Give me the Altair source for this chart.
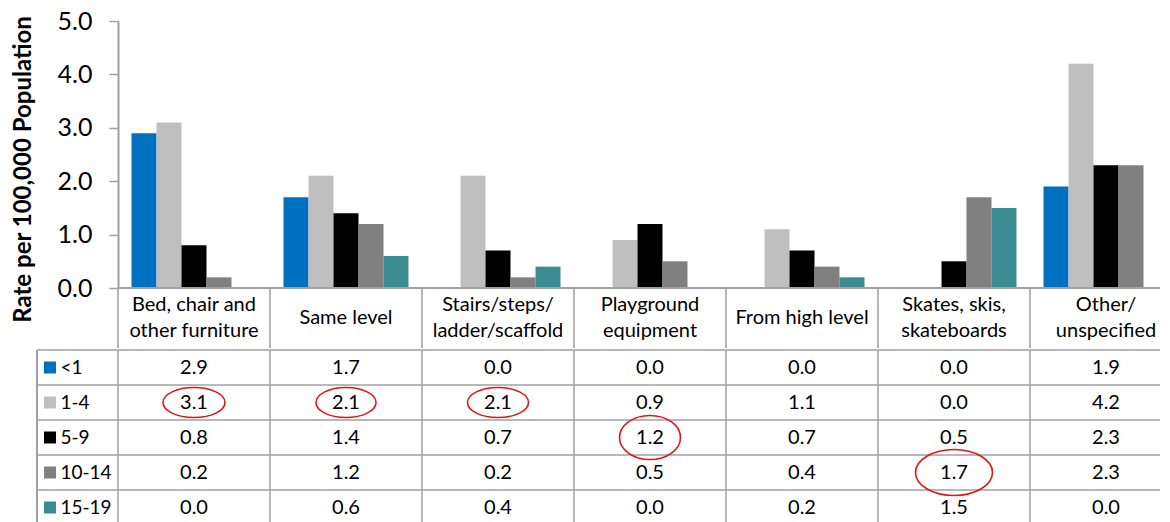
import altair as alt
import pandas as pd

# ---------------- data ----------------
categories = [
    "Bed, chair and\nother furniture",
    "Same level",
    "Stairs/steps/\nladder/scaffold",
    "Playground\nequipment",
    "From high level",
    "Skates, skis,\nskateboards",
    "Other/\nunspecified",
]
age_groups = ["<1", "1-4", "5-9", "10-14", "15-19"]
rate_lt1 = [2.9, 1.7, 0.0, 0.0, 0.0, 0.0, 1.9]
rate_1_4 = [3.1, 2.1, 2.1, 0.9, 1.1, 0.0, 4.2]
rate_5_9 = [0.8, 1.4, 0.7, 1.2, 0.7, 0.5, 2.3]
rate_10_14 = [0.2, 1.2, 0.2, 0.5, 0.4, 1.7, 2.3]
rate_15_19 = [0.0, 0.6, 0.4, 0.0, 0.2, 1.5, 0.0]
y_ticks = [0, 1, 2, 3, 4, 5]
# highlighted cells (category index, age group)
circled_cells = [(0, "1-4"), (1, "1-4"), (2, "1-4"), (3, "5-9"), (5, "10-14")]

# ---------------- style ----------------
colors = ["#0070C0", "#BFBFBF", "#000000", "#808080", "#3B8B92"]
ellipse_dims = [(62, 30), (60, 30), (61, 30), (61, 44), (77, 46)]
FONT = "Lato"
LINE = "#A0A0A0"
X_RANGE = 1064   # full width of the 7 category columns (last one runs past the window)
W = 1042         # visible plot width
H_TOP = 267
H_HEAD = 60
H_TAB = 175
LEFT_COL = 81

series = [rate_lt1, rate_1_4, rate_5_9, rate_10_14, rate_15_19]
rows = []
for age, vals in zip(age_groups, series):
    for cat, v in zip(categories, vals):
        rows.append({"category": cat, "age": age, "rate": v, "label": f"{v:.1f}"})
df = pd.DataFrame(rows)


def ellipse_path(ratio):
    k = 0.5523
    r = ratio
    return (
        f"M -1 0 C -1 {-k*r:.4f} {-k:.4f} {-r:.4f} 0 {-r:.4f} "
        f"C {k:.4f} {-r:.4f} 1 {-k*r:.4f} 1 0 "
        f"C 1 {k*r:.4f} {k:.4f} {r:.4f} 0 {r:.4f} "
        f"C {-k:.4f} {r:.4f} -1 {k*r:.4f} -1 0 Z"
    )


ell_rows = []
for (ci, age), (w, h) in zip(circled_cells, ellipse_dims):
    ell_rows.append({"category": categories[ci], "age": age,
                     "shape": ellipse_path(h / w), "size": w * w})
ell_df = pd.DataFrame(ell_rows)
age_df = pd.DataFrame({"age": age_groups})
cat_df = pd.DataFrame({"category": categories,
                       "nlines": [len(c.split("\n")) for c in categories]})

x_scale = alt.Scale(domain=categories, range=[0, X_RANGE], paddingInner=0, paddingOuter=0)
color_enc = alt.Color("age:N", scale=alt.Scale(domain=age_groups, range=colors), legend=None)
X = alt.X("category:N", sort=categories, scale=x_scale, axis=None)
X0 = alt.X("category:N", sort=categories, scale=x_scale, axis=None, bandPosition=0)

# ---------------- top: bars ----------------
bars = alt.Chart(df).transform_filter("datum.rate > 0").mark_bar().encode(
    x=X,
    xOffset=alt.XOffset("age:N", sort=age_groups,
                        scale=alt.Scale(domain=age_groups, paddingInner=0, paddingOuter=0.54)),
    y=alt.Y("rate:Q", scale=alt.Scale(domain=[0, 5], nice=False),
            axis=alt.Axis(values=y_ticks, format=".1f", title="Rate per 100,000 Population",
                          titleFont=FONT, titleFontSize=24, titleFontWeight="bold",
                          titleColor="black", titleX=-83, titleY=148,
                          labelFont=FONT, labelFontSize=25, labelColor="black", labelPadding=17,
                          tickSize=9, tickColor=LINE, tickWidth=1.5,
                          domainColor=LINE, domainWidth=2, grid=False)),
    color=color_enc,
)
x_domain = alt.Chart(cat_df).mark_rule(color=LINE, strokeWidth=2).encode(
    y=alt.value(H_TOP), x=alt.value(0), x2=alt.value(W))
head_lines = alt.Chart(cat_df).mark_rule(color=LINE, strokeWidth=1.5).encode(
    x=X0, y=alt.value(H_TOP), y2=alt.value(H_TOP + H_HEAD))
head_two = alt.Chart(cat_df).transform_filter("datum.nlines == 2").mark_text(
    font=FONT, fontSize=20, color="black", baseline="middle", lineBreak="\n", lineHeight=26
).encode(x=X, y=alt.value(H_TOP + 17), text="category:N")
head_one = alt.Chart(cat_df).transform_filter("datum.nlines == 1").mark_text(
    font=FONT, fontSize=20, color="black", baseline="middle"
).encode(x=X, y=alt.value(H_TOP + 30), text="category:N")
top = alt.layer(bars, head_lines, x_domain, head_two, head_one).properties(width=W, height=H_TOP)

# ---------------- bottom: data table ----------------
y_axis = alt.Axis(title=None, labelAlign="left", labelPadding=58, ticks=False, tickSize=0,
                  domain=False, labelFont=FONT, labelFontSize=19, labelColor="black",
                  labelBaseline="middle")
y_scale = alt.Scale(type="band", domain=age_groups, paddingInner=0, paddingOuter=0)
Y = alt.Y("age:N", sort=age_groups, scale=y_scale, axis=y_axis)
Y0 = alt.Y("age:N", sort=age_groups, scale=y_scale, axis=y_axis, bandPosition=0)

hlines = alt.Chart(age_df).mark_rule(color=LINE, strokeWidth=1.5).encode(
    y=Y0, x=alt.value(-LEFT_COL), x2=alt.value(W))
bottom_line = alt.Chart(age_df).mark_rule(color=LINE, strokeWidth=1.5).encode(
    y=alt.value(H_TAB), x=alt.value(-LEFT_COL), x2=alt.value(W))
vlines = alt.Chart(cat_df).mark_rule(color=LINE, strokeWidth=1.5).encode(
    x=X0, y=alt.value(0), y2=alt.value(H_TAB))
left_border = alt.Chart(age_df).mark_rule(color=LINE, strokeWidth=1.5).encode(
    x=alt.value(-LEFT_COL), y=alt.value(0), y2=alt.value(H_TAB))
squares = alt.Chart(age_df).mark_square(size=144, opacity=1).encode(
    y=Y, x=alt.value(-68), color=color_enc)
values = alt.Chart(df).mark_text(font=FONT, fontSize=20, color="black").encode(
    x=X, y=Y, text="label:N")
ellipses = alt.Chart(ell_df).mark_point(filled=False, color="#E3141B", strokeWidth=1.6,
                                        opacity=1, dx=-3).encode(
    x=X, y=Y, shape=alt.Shape("shape:N", scale=None), size=alt.Size("size:Q", scale=None))

table = alt.layer(hlines, bottom_line, vlines, left_border, squares, values,
                  ellipses).properties(width=W, height=H_TAB)

chart = alt.vconcat(top, table, spacing=0).properties(
    padding={"left": 2, "top": 1, "right": 0, "bottom": 0}, background="white"
).configure_view(stroke=None)

chart.save("out.html", embed_options={"renderer": "svg", "actions": False})
